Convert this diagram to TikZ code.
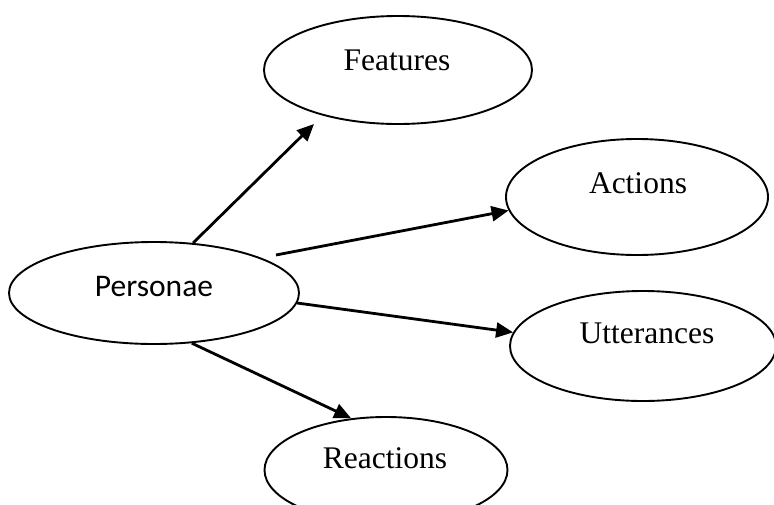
\documentclass[tikz,border=0pt]{standalone}
\usepackage{fontspec}
\setmainfont{Liberation Serif}
\newfontfamily\calfont{Carlito}
\usetikzlibrary{shapes.geometric,arrows.meta}

\tikzset{
  oval/.style={ellipse, draw=black, line width=1.9pt, inner sep=0pt, fill=white},
  serifword/.style={anchor=base, inner sep=0pt, font=\fontsize{31.5}{36}\selectfont},
  sansword/.style={anchor=base, inner sep=0pt, font=\calfont\fontsize{31.5}{36}\selectfont},
  link/.style={line width=2.8pt, -{Triangle[length=17pt,width=15pt]}}
}

\begin{document}
\begin{tikzpicture}[x=1pt, y=-1pt]
  \useasboundingbox[fill=white] (0,0) rectangle (774,504);

  % the five ovals
  \node[oval, minimum width=290pt, minimum height=102pt] (pers) at (154,293) {};
  \node[oval, minimum width=268pt, minimum height=108pt] (feat) at (398,70) {};
  \node[oval, minimum width=262pt, minimum height=116pt] (actn) at (637,197) {};
  \node[oval, minimum width=266pt, minimum height=110pt] (utt)  at (643,346) {};
  \node[oval, minimum width=243pt, minimum height=106pt] (reac) at (386,470) {};

  % their words
  \node[sansword]  (persT) at (154,296) {Personae};
  \node[serifword] (featT) at (397,70)  {Features};
  \node[serifword] (actnT) at (638,193) {Actions};
  \node[serifword] (uttT)  at (647,343) {Utterances};
  \node[serifword] (reacT) at (385,468) {Reactions};

  % loose arrow ends
  \coordinate (featIn) at (314,124);
  \coordinate (persOut) at (276,255);

  % arrows out of Personae
  \draw[link] (pers.52.7) -- (featIn);
  \draw[link] (persOut) -- (actn.186);
  \draw[link] (pers.-4) -- (utt.174.5);
  \draw[link] (pers.-53.5) -- (reac.124.4);
\end{tikzpicture}
\end{document}
